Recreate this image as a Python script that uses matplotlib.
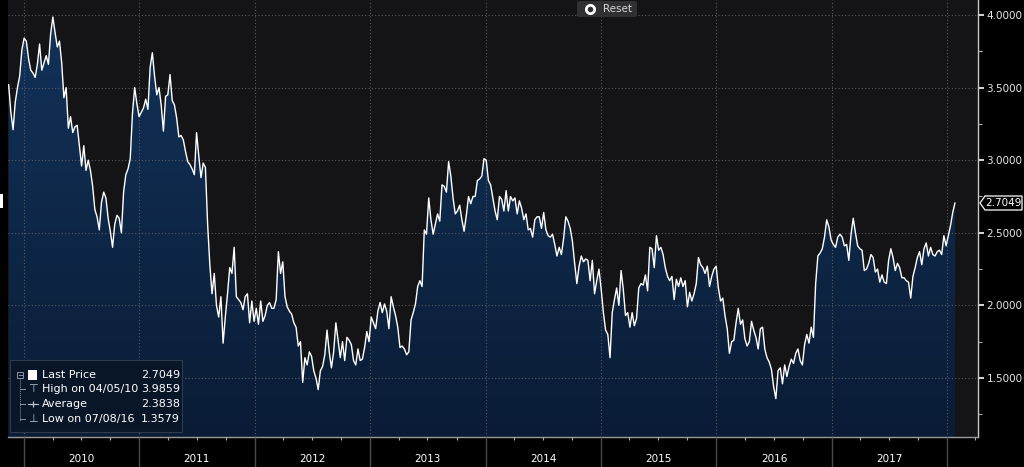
import numpy as np
import pandas as pd
import matplotlib
matplotlib.use("Agg")
import matplotlib.pyplot as plt
import matplotlib.dates as mdates
import matplotlib.transforms as mtransforms
from matplotlib.patches import FancyBboxPatch, Rectangle, Polygon
from matplotlib.lines import Line2D
from matplotlib.colors import LinearSegmentedColormap
from matplotlib.ticker import FixedLocator, FuncFormatter

# ---------------- data (weekly readings, first Friday = 2009-11-13) ----------------
start_date = "2009-11-13"
y2009 = [3.52, 3.33, 3.21, 3.40, 3.50, 3.58, 3.76]
y2010 = [3.84, 3.82, 3.70, 3.62, 3.60, 3.57, 3.66, 3.80, 3.62, 3.67, 3.72, 3.66, 3.87,
         3.9859, 3.88, 3.78, 3.82, 3.67, 3.43, 3.50, 3.22, 3.30, 3.19, 3.23, 3.24, 3.10,
         2.96, 3.10, 2.93, 3.00, 2.93, 2.82, 2.66, 2.61, 2.52, 2.71, 2.78, 2.74, 2.60,
         2.51, 2.40, 2.56, 2.62, 2.60, 2.50, 2.78, 2.90, 2.94, 3.01, 3.32, 3.50, 3.39, 3.30]
y2011 = [3.33, 3.36, 3.42, 3.35, 3.64, 3.74, 3.58, 3.45, 3.50, 3.38, 3.20, 3.44, 3.45,
         3.59, 3.41, 3.38, 3.29, 3.16, 3.17, 3.14, 3.06, 2.99, 2.97, 2.94, 2.90, 3.19,
         3.03, 2.88, 2.98, 2.95, 2.56, 2.28, 2.08, 2.22, 2.00, 1.92, 2.06, 1.74, 1.92,
         2.08, 2.26, 2.22, 2.40, 2.06, 2.04, 2.02, 1.97, 2.06, 2.08, 1.88, 2.03, 1.89]
y2012 = [1.98, 1.87, 2.03, 1.89, 1.93, 2.00, 2.02, 1.98, 1.98, 2.04, 2.37, 2.22, 2.30,
         2.06, 1.99, 1.96, 1.94, 1.88, 1.85, 1.72, 1.75, 1.47, 1.64, 1.59, 1.68, 1.65,
         1.55, 1.50, 1.42, 1.55, 1.58, 1.66, 1.83, 1.68, 1.57, 1.68, 1.88, 1.76, 1.64,
         1.75, 1.62, 1.78, 1.76, 1.73, 1.62, 1.59, 1.70, 1.62, 1.63, 1.71, 1.82, 1.75]
y2013 = [1.92, 1.88, 1.84, 1.96, 2.02, 1.95, 2.01, 1.96, 1.84, 2.06, 1.99, 1.93, 1.85,
         1.71, 1.72, 1.70, 1.66, 1.68, 1.90, 1.95, 2.01, 2.13, 2.17, 2.13, 2.52, 2.49,
         2.74, 2.59, 2.49, 2.56, 2.63, 2.58, 2.83, 2.82, 2.78, 2.99, 2.89, 2.74, 2.63,
         2.65, 2.69, 2.59, 2.51, 2.62, 2.75, 2.70, 2.75, 2.75, 2.86, 2.87, 2.89, 3.01]
y2014 = [3.00, 2.86, 2.83, 2.74, 2.65, 2.59, 2.75, 2.73, 2.65, 2.79, 2.65, 2.75, 2.72,
         2.74, 2.63, 2.72, 2.67, 2.59, 2.63, 2.52, 2.53, 2.47, 2.59, 2.61, 2.61, 2.53,
         2.64, 2.52, 2.48, 2.47, 2.49, 2.42, 2.34, 2.40, 2.35, 2.46, 2.61, 2.58, 2.53,
         2.44, 2.29, 2.15, 2.27, 2.34, 2.30, 2.32, 2.31, 2.17, 2.31, 2.08, 2.17, 2.25]
y2015 = [2.11, 1.95, 1.83, 1.80, 1.64, 1.95, 2.04, 2.12, 2.00, 2.24, 2.11, 1.93, 1.95,
         1.85, 1.95, 1.86, 1.91, 2.12, 2.15, 2.14, 2.21, 2.10, 2.40, 2.39, 2.26, 2.48,
         2.38, 2.40, 2.35, 2.26, 2.20, 2.17, 2.20, 2.04, 2.18, 2.13, 2.19, 2.13, 2.17,
         1.99, 2.09, 2.03, 2.08, 2.15, 2.33, 2.28, 2.26, 2.22, 2.27, 2.13, 2.20, 2.25]
y2016 = [2.27, 2.12, 2.03, 2.05, 1.93, 1.84, 1.67, 1.75, 1.76, 1.88, 1.98, 1.87, 1.90,
         1.77, 1.72, 1.75, 1.89, 1.83, 1.78, 1.70, 1.84, 1.85, 1.70, 1.64, 1.61, 1.56,
         1.44, 1.3579, 1.55, 1.57, 1.46, 1.59, 1.51, 1.58, 1.63, 1.60, 1.67, 1.70, 1.62,
         1.59, 1.73, 1.80, 1.74, 1.85, 1.78, 2.15, 2.34, 2.36, 2.39, 2.47, 2.59, 2.54, 2.45]
y2017 = [2.42, 2.40, 2.47, 2.49, 2.47, 2.41, 2.42, 2.31, 2.49, 2.60, 2.50, 2.41, 2.39,
         2.38, 2.24, 2.25, 2.29, 2.35, 2.33, 2.23, 2.25, 2.16, 2.21, 2.16, 2.15, 2.31,
         2.39, 2.33, 2.24, 2.29, 2.26, 2.19, 2.19, 2.17, 2.16, 2.05, 2.20, 2.26, 2.33,
         2.37, 2.28, 2.39, 2.43, 2.34, 2.40, 2.35, 2.34, 2.37, 2.38, 2.35, 2.48, 2.41]
y2018 = [2.48, 2.55, 2.64, 2.7049]

year_labels = ["2010", "2011", "2012", "2013", "2014", "2015", "2016", "2017"]
y_ticks = [1.5, 2.0, 2.5, 3.0, 3.5, 4.0]
legend_labels = ["Last Price", "High on 04/05/10", "Average", "Low on 07/08/16"]
legend_values = ["2.7049", "3.9859", "2.3838", "1.3579"]
last_price_label = "2.7049"

values = np.array(y2009 + y2010 + y2011 + y2012 + y2013 + y2014 + y2015 + y2016 + y2017 + y2018)
dates = pd.date_range(start_date, periods=len(values), freq="7D")
xd = mdates.date2num(dates)

# ---------------- figure ----------------
W, H = 1024, 467
fig = plt.figure(figsize=(W / 100, H / 100), dpi=100, facecolor="black")


def px(x, y):
    return (x / W, 1 - y / H)


ax = fig.add_axes([8 / W, 30 / H, 970 / W, 437 / H])
ax.set_facecolor("#141417")

xmin = mdates.date2num(pd.Timestamp("2009-11-11"))
xmax = mdates.date2num(pd.Timestamp("2018-04-09"))
ylo, yhi = 1.0937, 4.103

# gradient fill under the line
cmap = LinearSegmentedColormap.from_list("navy", ["#0a1c35", "#12335b"])
grad = np.linspace(0, 1, 256).reshape(-1, 1)
im = ax.imshow(grad, cmap=cmap, extent=[xmin, xmax, ylo, yhi], origin="lower",
               aspect="auto", zorder=1, interpolation="bilinear")
poly = ax.fill_between(xd, values, ylo, color="none", linewidth=0)
im.set_clip_path(poly.get_paths()[0], transform=ax.transData)

ax.plot(xd, values, color="white", linewidth=1.0, zorder=3)

ax.set_xlim(xmin, xmax)
ax.set_ylim(ylo, yhi)

# grid / ticks
year_starts = [mdates.date2num(pd.Timestamp(f"{y}-01-01")) for y in range(2010, 2019)]
quarters = [mdates.date2num(d) for d in pd.date_range("2009-10-01", "2018-04-01", freq="QS")]
ax.xaxis.set_major_locator(FixedLocator(year_starts))
ax.xaxis.set_minor_locator(FixedLocator(quarters))
ax.xaxis.set_major_formatter(FuncFormatter(lambda v, p: ""))
ax.tick_params(axis="x", which="major", direction="out", length=22, width=1.0, color="#4a4a4a")
ax.tick_params(axis="x", which="minor", direction="out", length=2.5, width=0.8, color="#b0b0b0")

ax.yaxis.tick_right()
ax.yaxis.set_major_locator(FixedLocator(y_ticks))
ax.yaxis.set_minor_locator(FixedLocator([t + 0.25 for t in [1.0] + y_ticks[:-1]] + [3.75]))
ax.yaxis.set_major_formatter(FuncFormatter(lambda v, p: f"{v:.4f}"))
ax.tick_params(axis="y", which="major", direction="out", length=4, width=1.5, color="#d0d0d0",
               labelcolor="#e8e8e8", labelsize=7.5, pad=2)
ax.tick_params(axis="y", which="minor", direction="out", length=3, width=0.8, color="#b0b0b0")

ax.set_axisbelow(False)
ax.grid(True, which="major", color="#5a5a5e", linestyle=(0, (1, 2)), linewidth=0.8)

for s in ["left", "top"]:
    ax.spines[s].set_visible(False)
ax.spines["right"].set_color("#c8c8c8")
ax.spines["right"].set_linewidth(1.0)
ax.spines["bottom"].set_color("#9a9a9a")
ax.spines["bottom"].set_linewidth(1.0)

# year labels centred in each year
btr = mtransforms.blended_transform_factory(ax.transData, fig.transFigure)
for yl in year_labels:
    mid = mdates.date2num(pd.Timestamp(f"{yl}-07-02"))
    ax.text(mid, 8 / H, yl, transform=btr, ha="center", va="center", color="white",
            fontsize=7.5, fontfamily="DejaVu Sans", clip_on=False)

# last price tag
tag = Polygon([px(980, 203), px(985, 196), px(1022, 196), px(1022, 210), px(985, 210)],
              closed=True, transform=fig.transFigure, facecolor="black", edgecolor="white",
              linewidth=0.9, zorder=5)
fig.add_artist(tag)
fig.text(*px(1003, 203.5), last_price_label, ha="center", va="center", color="white",
         fontsize=7.5, zorder=6)

# small white marker on the left edge
fig.add_artist(Rectangle(px(0, 208), 3 / W, 14 / H, transform=fig.transFigure,
                         facecolor="white", edgecolor="none", zorder=6))

# Reset button
fig.add_artist(FancyBboxPatch(px(577, 17), 60 / W, 16 / H, transform=fig.transFigure,
                              boxstyle="round,pad=0,rounding_size=0.003",
                              facecolor="#303033", edgecolor="none", zorder=5))
fig.add_artist(Line2D([590 / W], [1 - 9 / H], transform=fig.transFigure, marker="o",
                      markersize=6, markerfacecolor="#303033", markeredgecolor="white",
                      markeredgewidth=2.0, zorder=6))
fig.text(*px(603, 9), "Reset", ha="left", va="center", color="#d8d8d8", fontsize=7.5, zorder=6)

# legend box
fig.add_artist(FancyBboxPatch(px(10, 432), 172 / W, 72 / H, transform=fig.transFigure,
                              boxstyle="square,pad=0", facecolor="#091628",
                              edgecolor="#2e3b4c", linewidth=0.8, zorder=5))
rows_y = [375, 389, 404, 419]
for lab, val, yy in zip(legend_labels, legend_values, rows_y):
    fig.text(*px(42, yy), lab, ha="left", va="center", color="white", fontsize=8, zorder=7)
    fig.text(*px(180, yy), val, ha="right", va="center", color="white", fontsize=8, zorder=7)
# tree decorations
tree_col = "#8a93a0"
fig.add_artist(Rectangle(px(17, 378), 6 / W, 6 / H, transform=fig.transFigure, facecolor="none",
                         edgecolor=tree_col, linewidth=0.7, zorder=7))
fig.add_artist(Line2D([18.5 / W, 21.5 / W], [1 - 375 / H] * 2, transform=fig.transFigure,
                      color=tree_col, linewidth=0.7, zorder=7))
fig.add_artist(Line2D([20 / W, 20 / W], [1 - 379 / H, 1 - 421 / H], transform=fig.transFigure,
                      color=tree_col, linewidth=0.7, linestyle=(0, (1, 1)), zorder=7))
for yy in rows_y[1:]:
    fig.add_artist(Line2D([20 / W, 25 / W], [1 - yy / H] * 2, transform=fig.transFigure,
                          color=tree_col, linewidth=0.7, zorder=7))
fig.add_artist(Rectangle(px(28, 380), 9 / W, 10 / H, transform=fig.transFigure,
                         facecolor="white", edgecolor="none", zorder=7))
fig.text(*px(33, 389), "\u22a4", ha="center", va="center", color="#b8c0cc", fontsize=8, zorder=7)
fig.add_artist(Line2D([28 / W, 38 / W], [1 - 404 / H] * 2, transform=fig.transFigure,
                      color="#b8c0cc", linewidth=0.8, marker="+", markevery=[0], markersize=0,
                      zorder=7))
fig.add_artist(Line2D([33 / W], [1 - 404 / H], transform=fig.transFigure, color="#b8c0cc",
                      marker="+", markersize=5, markeredgewidth=0.9, zorder=7))
fig.text(*px(33, 419), "\u22a5", ha="center", va="center", color="#b8c0cc", fontsize=8, zorder=7)

fig.savefig("out.png", dpi=100, facecolor="black")
